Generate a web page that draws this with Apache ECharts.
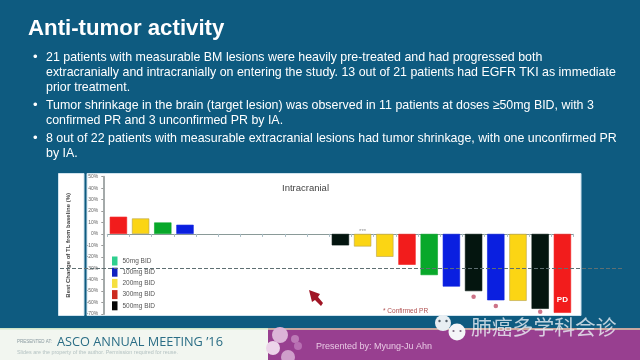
<!DOCTYPE html>
<html>
<head>
<meta charset="utf-8">
<title>Anti-tumor activity</title>
<style>
  html, body { margin: 0; padding: 0; background: #0e5b80; }
  #main { width: 640px; height: 360px; filter: blur(0.45px); }
</style>
<script src="https://cdn.jsdelivr.net/npm/echarts@6/dist/echarts.min.js"></script>
</head>
<body>
<div id="main"></div>
<script>
// best change of TL from baseline, one bar per patient
var patients = ['1','2','3','4','5','6','7','8','9','10','11','12','13','14','15','16','17','18','19','20','21'];
var changes = [15, 13.5, 10, 8, 0, 0, 0, 0, 0, 0, -10, -11, -20, -27, -36, -46, -50, -58, -58.5, -65.5, -69];
var doseOf = ['300mg BID','200mg BID','50mg BID','100mg BID',null,null,null,null,null,null,
  '500mg BID','200mg BID','200mg BID','300mg BID','50mg BID','100mg BID','500mg BID','100mg BID','200mg BID','500mg BID','300mg BID'];
var doses = ['50mg BID','100mg BID','200mg BID','300mg BID','500mg BID'];
var barColors = ['#08a82a','#0a1fe0','#fbd514','#f21c1c','#04150f'];
var legendColors = ['#2fcf8f','#1020c0','#f5e040','#cc2a1f','#050505'];
var confirmedPR = [[16,-55],[17,-63],[19,-68]];
var unconfirmedPR = [[11,2.5]];
var pdPatient = 20;

var title = 'Anti-tumor activity';
var bulletLines = [
  ['21 patients with measurable BM lesions were heavily pre-treated and had progressed both', 57.5, true],
  ['extracranially and intracranially on entering the study. 13 out of 21 patients had EGFR TKI as immediate', 72.5],
  ['prior treatment.', 87.5],
  ['Tumor shrinkage in the brain (target lesion) was observed in 11 patients at doses \u226550mg BID, with 3', 105.5, true],
  ['confirmed PR and 3 unconfirmed PR by IA.', 120.5],
  ['8 out of 22 patients with measurable extracranial lesions had tumor shrinkage, with one unconfirmed PR', 138, true],
  ['by IA.', 153]
];

function rect(x, y, w, h, fill, z, stroke) {
  return { type: 'rect', z: z, silent: true, shape: { x: x, y: y, width: w, height: h }, style: { fill: fill, stroke: stroke || null } };
}
function label(text, x, y, size, color, z, weight, family, squeeze) {
  return { type: 'text', z: z, silent: true, x: x, y: y, scaleX: squeeze || 1, style: {
    text: text, fill: color, fontSize: size, fontWeight: weight || 'normal',
    fontFamily: family || 'Liberation Sans', verticalAlign: 'middle'
  } };
}
function blob(x, y, r, color, z) {
  return { type: 'circle', z: z, silent: true, shape: { cx: x, cy: y, r: r }, style: { fill: color } };
}

var slide = [
  // background, footer
  rect(0, 0, 640, 330, '#0e5b80', -20),
  rect(0, 329, 270, 31, '#f2f6f0', -19),
  rect(268, 329, 372, 31, '#983f90', -19),
  rect(268, 328, 372, 2, '#c9a8a0', -18),
  rect(0, 328, 268, 1.5, '#cfe5c8', -18),
  blob(280, 335, 8, '#dcb4d8', -17),
  blob(273, 348, 7, '#ecd4ea', -17),
  blob(288, 357, 7, '#cf9ecb', -17),
  blob(295, 339, 4, '#bc7ab6', -17),
  blob(298, 346, 4, '#b86fb2', -17),
  label('PRESENTED AT:', 17, 342, 4.5, '#8a9aa0', -16),
  label('ASCO ANNUAL MEETING \u201916', 57, 342, 13, '#2a6d85', -16, 'normal', 'Open Sans', 0.98),
  label('Slides are the property of the author. Permission required for reuse.', 17, 353, 5.4, '#b4c2c2', -16),
  label('Presented by: Myung-Ju Ahn', 316, 347, 9, '#e8c8e4', -16),
  // chart panels
  rect(58.5, 173.5, 25.5, 142, '#ffffff', -15, '#cfe3ee'),
  rect(87, 173.5, 494, 142, '#ffffff', -15, '#cfe3ee'),
  // heading and bullets
  label(title, 28, 29, 22.8, '#ffffff', 1, 'bold', null, 0.975),
  label('Intracranial', 282, 188, 9.5, '#444444', 1),
  label('* Confirmed PR', 383, 311, 6.5, '#b05050', 1),
  // pointer seen on the slide
  { type: 'polygon', z: 30, silent: true, shape: { points: [[309,290],[320,294],[318,297],[323,303],[321,306],[315,300],[312,302]] }, style: { fill: '#a01525' } },
  // watermark
  blob(443, 323, 8, '#e8eef2', 31),
  blob(439.5, 321, 1.2, '#55606a', 32),
  blob(446.5, 321, 1.2, '#55606a', 32),
  blob(457, 332, 8.5, '#f4f6f8', 31),
  blob(453.5, 331, 1.1, '#7a6a80', 32),
  blob(460.5, 331, 1.1, '#7a6a80', 32),
  label('\u80ba\u764c\u591a\u5b66\u79d1\u4f1a\u8bca', 471, 327, 20.8, 'rgba(235,240,245,0.8)', 31, 'normal', 'Noto Sans CJK SC')
];
bulletLines.forEach(function (l) {
  if (l[2]) slide.push(label('\u2022', 33, l[1], 13.1, '#ffffff', 1));
  slide.push(label(l[0], 46, l[1], 13.1, '#ffffff', 1, null, null, 0.947));
});

var series = doses.map(function (dose, d) {
  return {
    name: dose,
    type: 'bar',
    stack: 'all',
    barWidth: 17.3,
    itemStyle: {
      color: barColors[d],
      borderColor: dose === '200mg BID' ? '#b8a24a' : barColors[d],
      borderWidth: 0.6
    },
    data: changes.map(function (v, i) {
      if (doseOf[i] !== dose) return null;
      if (i === pdPatient) {
        return { value: v, label: { show: true, position: 'insideBottom', distance: 9, formatter: 'PD', color: '#fff', fontSize: 8, fontWeight: 'bold' } };
      }
      return v;
    })
  };
});
series[0].markLine = {
  silent: true,
  symbol: 'none',
  label: { show: false },
  lineStyle: { color: '#5f6f72', type: 'dashed', width: 1 },
  data: [[{ x: 60, yAxis: -30 }, { x: 622, yAxis: -30 }]]
};
series.push({
  type: 'scatter', name: 'Confirmed PR', symbol: 'circle', symbolSize: 4.5,
  itemStyle: { color: '#c0506a' }, z: 5, data: confirmedPR
});
series.push({
  type: 'scatter', name: 'Unconfirmed PR', symbolSize: 0, z: 5,
  label: { show: true, formatter: '***', position: 'inside', color: '#777', fontSize: 6 },
  data: unconfirmedPR
});

var myChart = echarts.init(document.getElementById('main'));
myChart.setOption({
  animation: false,
  graphic: { elements: slide },
  legend: {
    orient: 'vertical',
    left: 112,
    top: 256.5,
    padding: 0,
    itemWidth: 5.5,
    itemHeight: 9,
    itemGap: 2.2,
    icon: 'rect',
    textStyle: { fontSize: 6.5, color: '#555', fontFamily: 'Liberation Sans' },
    data: doses.map(function (dose, d) {
      return { name: dose, itemStyle: { color: legendColors[d], borderWidth: 0 } };
    })
  },
  grid: { left: 107.3, top: 176.7, width: 466.2, height: 137.3 },
  xAxis: {
    type: 'category',
    data: patients,
    axisLine: { lineStyle: { color: '#8a9a98', width: 1 } },
    axisTick: { show: true, length: 3, lineStyle: { color: '#a8bcc4' } },
    axisLabel: { show: false }
  },
  yAxis: {
    type: 'value',
    min: -70,
    max: 50,
    interval: 10,
    offset: 4,
    name: 'Best Change of TL from baseline (%)',
    nameLocation: 'middle',
    nameGap: 32,
    nameTextStyle: { fontSize: 6, fontWeight: 'bold', color: '#444', fontFamily: 'Liberation Sans' },
    axisLine: { show: true, lineStyle: { color: '#a4aaaa', width: 2 } },
    axisTick: { show: true, length: 2, lineStyle: { color: '#999' } },
    axisLabel: { fontSize: 5, color: '#666', margin: 5, formatter: '{value}%', fontFamily: 'Liberation Sans' },
    splitLine: { show: false }
  },
  series: series
});
</script>
</body>
</html>
